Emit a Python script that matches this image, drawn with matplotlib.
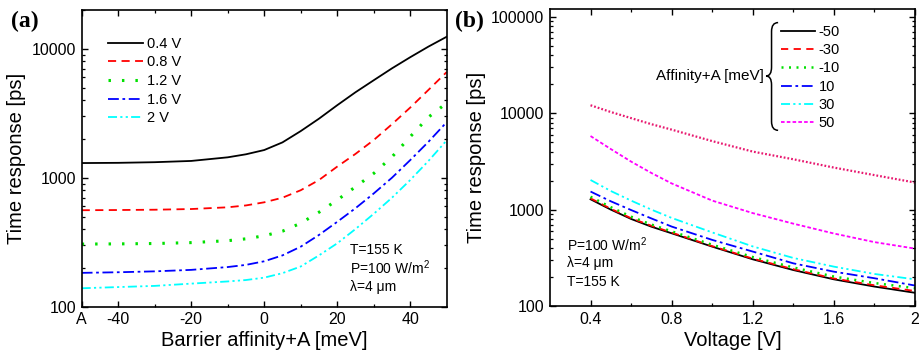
import numpy as np
import matplotlib
matplotlib.use("Agg")
import matplotlib.pyplot as plt
from matplotlib.path import Path
from matplotlib.patches import PathPatch
from matplotlib.ticker import LogLocator, FixedLocator, NullFormatter

plt.rcParams['font.family'] = ['Liberation Sans', 'DejaVu Sans']
plt.rcParams['mathtext.fontset'] = 'custom'
plt.rcParams['mathtext.rm'] = 'Liberation Sans'
plt.rcParams['mathtext.it'] = 'Liberation Sans'

# ---- panel (a): time response vs barrier affinity ----
affinity = [-50, -40, -30, -20, -10, -5, 0, 5, 10, 15, 20, 25, 30, 35, 40, 45, 50]
t_04 = [1300, 1305, 1320, 1350, 1440, 1520, 1640, 1880, 2300, 2870, 3650, 4600, 5700, 7050, 8600, 10400, 12400]
t_08 = [560, 562, 565, 572, 590, 610, 645, 700, 800, 960, 1220, 1530, 1960, 2600, 3500, 4800, 6600]
t_12 = [306, 307, 309, 314, 325, 336, 355, 385, 444, 540, 672, 850, 1080, 1450, 2080, 2950, 3800]
t_16 = [183, 185, 188, 193, 203, 211, 225, 250, 292, 360, 455, 580, 755, 1000, 1370, 1900, 2700]
t_20 = [139, 142, 145, 151, 157, 161, 168, 182, 205, 250, 310, 400, 525, 700, 960, 1350, 1950]
labels_a = ['0.4 V', '0.8 V', '1.2 V', '1.6 V', '2 V']
xticks_a = [-50, -40, -20, 0, 20, 40]
xticklabels_a = ['A', '-40', '-20', '0', '20', '40']

# ---- panel (b): time response vs voltage ----
voltage = [0.4, 0.5, 0.6, 0.7, 0.8, 1.0, 1.2, 1.4, 1.6, 1.8, 2.0]
b_m50 = [1280, 1000, 800, 665, 568, 413, 305, 236, 189, 159, 137]
b_m30 = [1310, 1020, 815, 680, 578, 418, 310, 241, 193, 164, 143]
b_m10 = [1360, 1060, 845, 700, 595, 432, 322, 251, 202, 173, 153]
b_p10 = [1540, 1220, 990, 810, 667, 485, 367, 277, 227, 194, 163]
b_p30 = [2030, 1560, 1240, 1000, 820, 580, 415, 315, 256, 215, 189]
b_p50 = [5800, 4250, 3150, 2400, 1870, 1240, 920, 715, 565, 460, 394]
b_top = [12100, 10300, 8900, 7700, 6760, 5140, 4000, 3330, 2730, 2280, 1910]
labels_b = ['-50', '-30', '-10', '10', '30', '50']

fig = plt.figure(figsize=(9.22, 3.61), dpi=100)
axa = fig.add_axes([0.0886, 0.1504, 0.3959, 0.822])
axb = fig.add_axes([0.5965, 0.1524, 0.3959, 0.822])

lw = 1.3
axa.plot(affinity, t_04, color='black', lw=lw, label=labels_a[0])
axa.plot(affinity, t_08, color='red', lw=lw, dashes=(4.5, 3), label=labels_a[1])
axa.plot(affinity, t_12, color='#00e000', lw=2.2, dashes=(0.8, 3.6), label=labels_a[2])
axa.plot(affinity, t_16, color='blue', lw=lw, dashes=(6, 2, 1.5, 2), label=labels_a[3])
axa.plot(affinity, t_20, color='cyan', lw=lw, dashes=(5, 1.8, 1.2, 1.8, 1.2, 1.8), label=labels_a[4])

axb.plot(voltage, b_m50, color='black', lw=lw, label=labels_b[0])
axb.plot(voltage, b_m30, color='red', lw=lw, dashes=(4, 3), label=labels_b[1])
axb.plot(voltage, b_m10, color='#00e000', lw=1.8, dashes=(0.8, 2.2), label=labels_b[2])
axb.plot(voltage, b_p10, color='blue', lw=lw, dashes=(6, 2, 1.5, 2), label=labels_b[3])
axb.plot(voltage, b_p30, color='cyan', lw=lw, dashes=(5, 1.8, 1.2, 1.8, 1.2, 1.8), label=labels_b[4])
axb.plot(voltage, b_p50, color='#ff00ff', lw=lw, dashes=(2, 1.2), label=labels_b[5])
axb.plot(voltage, b_top, color='#e8186f', lw=1.6, dashes=(0.8, 0.9))

for ax in (axa, axb):
    ax.set_yscale('log')
    ax.tick_params(which='both', direction='in', top=True, right=True, labelsize=11.5, pad=4)
    ax.tick_params(which='major', length=4, width=1)
    ax.tick_params(which='minor', length=2.5, width=0.9)
    ax.yaxis.set_minor_locator(LogLocator(base=10, subs=np.arange(2, 10)))
    ax.yaxis.set_minor_formatter(NullFormatter())
    for s in ax.spines.values():
        s.set_linewidth(1.2)
    ax.set_ylabel('Time response [ps]', fontsize=14.5, labelpad=4)

axa.set_xlim(-50, 50)
axa.set_ylim(100, 20000)
axa.set_xticks(xticks_a)
axa.set_xticklabels(xticklabels_a)
axa.xaxis.set_minor_locator(FixedLocator([-30, -10, 10, 30]))
axa.set_yticks([100, 1000, 10000])
axa.set_yticklabels(['100', '1000', '10000'])
axa.set_xlabel('Barrier affinity+A [meV]', fontsize=14.5, labelpad=3)

axb.set_xlim(0.2, 2.0)
axb.set_ylim(100, 120000)
axb.set_xticks([0.4, 0.8, 1.2, 1.6, 2.0])
axb.set_xticklabels(['0.4', '0.8', '1.2', '1.6', '2'])
axb.xaxis.set_minor_locator(FixedLocator([0.6, 1.0, 1.4, 1.8]))
axb.set_yticks([100, 1000, 10000, 100000])
axb.set_yticklabels(['100', '1000', '10000', '100000'])
axb.set_xlabel('Voltage [V]', fontsize=14.5, labelpad=3)

axa.legend(loc='upper left', bbox_to_anchor=(0.072, 0.91), frameon=False,
           fontsize=10.5, handlelength=2.4, handletextpad=0.25, labelspacing=0.32,
           borderpad=0, borderaxespad=0)
axb.legend(loc='upper left', bbox_to_anchor=(0.632, 0.947), frameon=False,
           fontsize=10.5, handlelength=2.35, handletextpad=0.25, labelspacing=0.29,
           borderpad=0, borderaxespad=0)

# curly brace next to legend in (b)
xt, xb, xe = 0.592, 0.607, 0.625
yt, ym, yb = 0.955, 0.775, 0.592
verts = [(xe, yt), (xb, yt), (xb, yt - 0.03),
         (xb, ym + 0.03), (xb, ym), (xt, ym),
         (xb, ym), (xb, ym - 0.03),
         (xb, yb + 0.03), (xb, yb), (xe, yb)]
codes = [Path.MOVETO, Path.CURVE3, Path.CURVE3,
         Path.LINETO, Path.CURVE3, Path.CURVE3,
         Path.CURVE3, Path.CURVE3,
         Path.LINETO, Path.CURVE3, Path.CURVE3]
axb.add_patch(PathPatch(Path(verts, codes), transform=axb.transAxes,
                        fill=False, lw=1.1, color='black'))
axb.text(0.585, 0.775, 'Affinity+A [meV]', transform=axb.transAxes,
         ha='right', va='center', fontsize=11)

txt_a = ['T=155 K', 'P=100 W/m$^2$', '\u03bb=4 \u03bcm']
for t, y in zip(txt_a, [0.191, 0.130, 0.066]):
    axa.text(0.735, y, t, transform=axa.transAxes, ha='left', va='center', fontsize=10)
txt_b = ['P=100 W/m$^2$', '\u03bb=4 \u03bcm', 'T=155 K']
for t, y in zip(txt_b, [0.206, 0.145, 0.081]):
    axb.text(0.047, y, t, transform=axb.transAxes, ha='left', va='center', fontsize=10)

fig.text(0.012, 0.94, '(a)', fontsize=17, fontweight='bold', family='Liberation Serif', va='center')
fig.text(0.494, 0.94, '(b)', fontsize=17, fontweight='bold', family='Liberation Serif', va='center')

fig.savefig('out.png', dpi=100)
